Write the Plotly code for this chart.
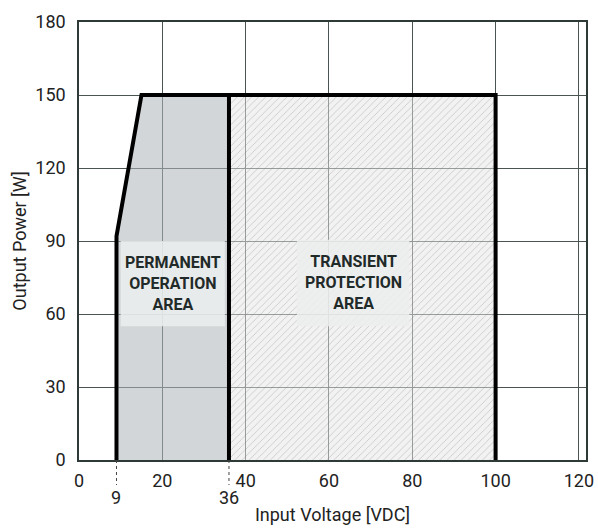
import plotly.graph_objects as go

# ---- data ----
x_ticks = [0, 20, 40, 60, 80, 100, 120]
y_ticks = [0, 30, 60, 90, 120, 150, 180]
extra_x_ticks = [9, 36]
extra_x_labels = ["9", "36"]

perm_x = [9, 9, 15, 36, 36]
perm_y = [0, 92, 150, 150, 0]
trans_x = [36, 36, 100, 100]
trans_y = [0, 150, 150, 0]
outline_x = [9, 9, 15, 100, 100]
outline_y = [0, 92, 150, 150, 0]
divider_x = [36, 36]
divider_y = [0, 150]

perm_label = ["PERMANENT", "OPERATION", "AREA"]
perm_box_x = [10, 35]
perm_box_y = [55, 90]
trans_label = ["TRANSIENT", "PROTECTION", "AREA"]
trans_box_x = [52.3, 79.3]
trans_box_y = [55, 90.5]

FONT = "Roboto, Liberation Sans, sans-serif"
DARK = "#1f2a29"

fig = go.Figure()

fig.add_trace(go.Scatter(
    x=perm_x, y=perm_y, fill="toself", mode="none",
    fillcolor="rgba(175,181,186,0.56)", hoverinfo="skip", showlegend=False))

fig.add_trace(go.Scatter(
    x=trans_x, y=trans_y, fill="toself", mode="none",
    fillcolor="rgba(225,225,225,0.45)",
    fillpattern=dict(shape="/", size=5, solidity=0.15,
                     fgcolor="rgba(115,115,115,0.75)",
                     bgcolor="rgba(230,230,230,0.5)"),
    hoverinfo="skip", showlegend=False))

fig.add_trace(go.Scatter(
    x=outline_x, y=outline_y, mode="lines",
    line=dict(color="black", width=4), hoverinfo="skip", showlegend=False))
fig.add_trace(go.Scatter(
    x=divider_x, y=divider_y, mode="lines",
    line=dict(color="black", width=4), hoverinfo="skip", showlegend=False))

# label boxes
for bx, by in [(perm_box_x, perm_box_y), (trans_box_x, trans_box_y)]:
    fig.add_shape(type="rect", x0=bx[0], x1=bx[1], y0=by[0], y1=by[1],
                  xref="x", yref="y", fillcolor="rgba(236,238,238,0.85)",
                  line=dict(width=0), layer="above")

for bx, by, lines in [(perm_box_x, perm_box_y, perm_label),
                      (trans_box_x, trans_box_y, trans_label)]:
    fig.add_annotation(x=(bx[0] + bx[1]) / 2, y=(by[0] + by[1]) / 2,
                       xref="x", yref="y",
                       text="<br>".join("<b>%s</b>" % s for s in lines),
                       showarrow=False, align="center",
                       font=dict(family=FONT, size=16, color=DARK))

# extra tick marks (9 and 36) with dashed leaders
for xv, lab in zip(extra_x_ticks, extra_x_labels):
    fig.add_shape(type="line", x0=xv, x1=xv, y0=0, y1=-0.057,
                  xref="x", yref="paper",
                  line=dict(color="#444", width=1, dash="3px,3px"))
    fig.add_annotation(x=xv, y=-0.085, xref="x", yref="paper", text=lab,
                       showarrow=False, yanchor="middle",
                       font=dict(family=FONT, size=18, color="#222"))

fig.update_layout(
    width=598, height=528,
    margin=dict(l=79, r=12, t=22, b=68),
    plot_bgcolor="white", paper_bgcolor="white",
    font=dict(family=FONT, size=18, color="#222"),
)
fig.update_xaxes(
    range=[0, 121.7], tickvals=x_ticks, ticktext=[str(v) for v in x_ticks],
    showgrid=True, gridcolor="#4a5553", gridwidth=1, zeroline=False,
    showline=True, linecolor="#2d3a38", linewidth=1.5, mirror=True,
    ticks="", ticklabelstandoff=4, automargin=False,
    title=dict(text="Input Voltage [VDC]", standoff=18,
               font=dict(family=FONT, size=18, color="#222")),
)
fig.update_yaxes(
    range=[0, 180], tickvals=y_ticks, ticktext=[str(v) for v in y_ticks],
    showgrid=True, gridcolor="#4a5553", gridwidth=1, zeroline=False,
    showline=True, linecolor="#2d3a38", linewidth=1.5, mirror=True,
    ticks="", ticklabelstandoff=8, automargin=False,
    title=dict(text="Output Power [W]", standoff=4,
               font=dict(family=FONT, size=18, color="#222")),
)

fig.write_html(
    "out.html",
    config={"displayModeBar": False},
    post_script="document.body.style.margin='0';document.body.style.overflow='hidden';",
)
